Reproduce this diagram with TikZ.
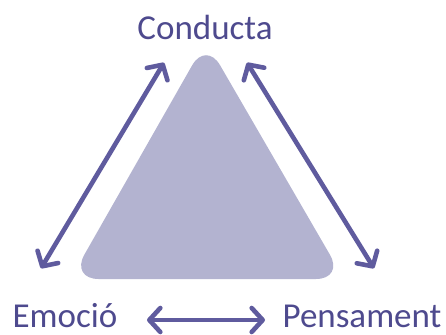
\documentclass[tikz,border=0pt]{standalone}
\usepackage{fontspec}
\setmainfont{Carlito}
\usetikzlibrary{arrows.meta}
\definecolor{txtc}{RGB}{78,74,142}
\definecolor{arrc}{RGB}{95,91,158}
\definecolor{trif}{RGB}{179,179,208}
\tikzset{
  lbl/.style={font=\fontsize{35}{35}\selectfont, text=txtc, inner sep=0pt, text depth=0pt, anchor=base},
  barb/.tip={Straight Barb[length=11pt,width=24pt,line cap=round,line join=round]},
  dbl/.style={draw=arrc, line width=4.6pt, line cap=round,
    {barb}-{barb}, shorten <=2pt, shorten >=2pt}
}
\begin{document}
\begin{tikzpicture}[x=1pt,y=-1pt]
\useasboundingbox (0,0) rectangle (446,334);
% triangle
\fill[trif, rounded corners=28pt] (206,41) -- (344,279) -- (70.5,279) -- cycle;
% labels
\node[lbl] (cond) at (205,40) {Conducta};
\node[lbl] (emo) at (65,327) {Emoció};
\node[lbl] (pens) at (362,327) {Pensament};
% arrow ends
\coordinate (l1) at (165,61);
\coordinate (l2) at (40,270);
\coordinate (r1) at (246,61);
\coordinate (r2) at (375,270);
\coordinate (b1) at (145,320);
\coordinate (b2) at (267,320);
\draw[dbl] (l2) -- (l1);
\draw[dbl] (r1) -- (r2);
\draw[dbl] (b1) -- (b2);
\end{tikzpicture}
\end{document}
